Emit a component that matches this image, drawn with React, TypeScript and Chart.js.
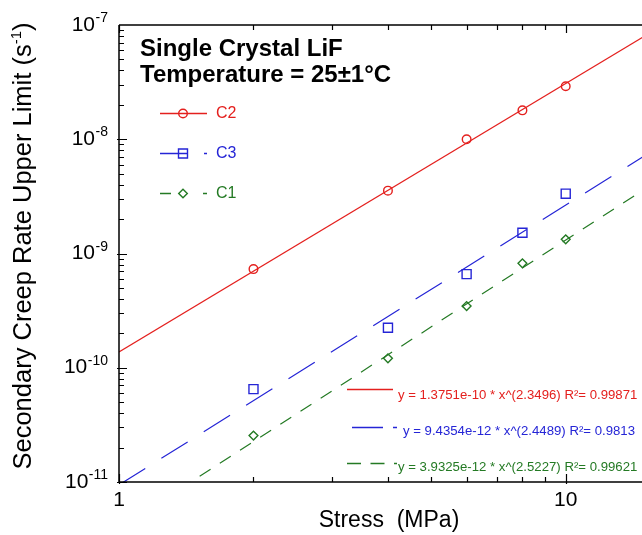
import React, { useEffect, useRef } from "react";
import { Chart, registerables } from "chart.js";

Chart.register(...registerables);

// ---- data ----
const stress = [2, 4, 6, 8, 10];
const c2Rate = [7.3e-10, 3.55e-9, 1.0e-8, 1.79e-8, 2.91e-8];
const c3Rate = [6.5e-11, 2.24e-10, 6.6e-10, 1.52e-9, 3.34e-9];
const c1Rate = [2.55e-11, 1.21e-10, 3.47e-10, 8.2e-10, 1.33e-9];

// power-law fit lines (straight on log-log, two end points each)
const fitStress = [1, 20];
const c2Fit = [1.3751e-10, 1.568e-7];
const c3Fit = [9.4354e-12, 1.449e-8];
const c1Fit = [3.9325e-12, 7.533e-9];

const seriesNames = ["C2", "C3", "C1"];
const fitLabels = [
  "y = 1.3751e-10 * x^(2.3496) R\u00B2= 0.99871",
  "y = 9.4354e-12 * x^(2.4489) R\u00B2= 0.9813",
  "y = 3.9325e-12 * x^(2.5227) R\u00B2= 0.99621",
];

const xMajorTicks = [1, 10];
const xTickLabels = ["1", "10"];
const yMajorTicks = [1e-11, 1e-10, 1e-9, 1e-8, 1e-7];
const yTickExponents = ["-11", "-10", "-9", "-8", "-7"];

const titleLines = ["Single Crystal LiF", "Temperature = 25\u00B11\u00B0C"];
const xTitle = "Stress  (MPa)";
const yTitleMain = "Secondary Creep Rate Upper Limit (s";
const yTitleSup = "-1";
const yTitleEnd = ")";

const RED = "#e4201e";
const BLUE = "#2525d6";
const GREEN = "#247a24";
const FONT = '"Liberation Sans", Arial, Helvetica, sans-serif';

const pts = (xs: number[], ys: number[]) => xs.map((x, i) => ({ x, y: ys[i] }));

const decorPlugin = {
  id: "decor",
  afterDraw(chart: any) {
    const ctx: CanvasRenderingContext2D = chart.ctx;
    const xs = chart.scales.x;
    const ys = chart.scales.y;
    const a = chart.chartArea;
    ctx.save();

    // frame
    ctx.strokeStyle = "#000";
    ctx.lineWidth = 1.5;
    ctx.beginPath();
    ctx.moveTo(a.left, a.top);
    ctx.lineTo(a.left, a.bottom);
    ctx.lineTo(a.right, a.bottom);
    ctx.moveTo(a.left, a.top);
    ctx.lineTo(a.right, a.top);
    ctx.stroke();

    // ticks (inward)
    ctx.lineWidth = 1.2;
    ctx.beginPath();
    for (let k = -11; k <= -8; k++) {
      for (let n = 1; n <= 9; n++) {
        const v = n * Math.pow(10, k);
        const py = Math.round(ys.getPixelForValue(v)) + 0.5;
        const len = n === 1 ? 8 : 5;
        ctx.moveTo(a.left - (n === 1 ? 2 : 0), py);
        ctx.lineTo(a.left + len, py);
      }
    }
    for (let k = 0; k <= 1; k++) {
      for (let n = 1; n <= 9; n++) {
        const v = n * Math.pow(10, k);
        if (v > 20) continue;
        const px = Math.round(xs.getPixelForValue(v)) + 0.5;
        const len = n === 1 ? 8 : 5;
        ctx.moveTo(px, a.bottom + (n === 1 ? 2 : 0));
        ctx.lineTo(px, a.bottom - len);
        ctx.moveTo(px, a.top);
        ctx.lineTo(px, a.top + len);
      }
    }
    ctx.stroke();

    // y tick labels
    ctx.fillStyle = "#000";
    ctx.textBaseline = "alphabetic";
    yMajorTicks.forEach((v, i) => {
      const py = ys.getPixelForValue(v);
      ctx.font = `14px ${FONT}`;
      ctx.textAlign = "right";
      const sup = yTickExponents[i];
      const sw = ctx.measureText(sup).width;
      ctx.fillText(sup, 108, py - 3);
      ctx.font = `21px ${FONT}`;
      ctx.fillText("10", 108 - sw - 0.5, py + 5.5);
    });

    // x tick labels
    ctx.font = `21px ${FONT}`;
    ctx.textAlign = "center";
    xMajorTicks.forEach((v, i) => {
      ctx.fillText(xTickLabels[i], xs.getPixelForValue(v), 506);
    });

    // x title
    ctx.font = `23px ${FONT}`;
    ctx.fillText(xTitle, 389, 527);

    // y title (rotated)
    ctx.save();
    ctx.translate(31, 246);
    ctx.rotate(-Math.PI / 2);
    ctx.textAlign = "left";
    ctx.font = `25.5px ${FONT}`;
    const w1 = ctx.measureText(yTitleMain).width;
    const w3 = ctx.measureText(yTitleEnd).width;
    ctx.font = `15px ${FONT}`;
    const w2 = ctx.measureText(yTitleSup).width;
    const start = -(w1 + w2 + w3) / 2;
    ctx.font = `25.5px ${FONT}`;
    ctx.fillText(yTitleMain, start, 0);
    ctx.fillText(yTitleEnd, start + w1 + w2, 0);
    ctx.font = `15px ${FONT}`;
    ctx.fillText(yTitleSup, start + w1, -10);
    ctx.restore();

    // title
    ctx.textAlign = "left";
    ctx.font = `bold 24px ${FONT}`;
    ctx.fillText(titleLines[0], 140, 56);
    ctx.fillText(titleLines[1], 140, 82);

    // legend (top-left)
    const colors = [RED, BLUE, GREEN];
    const legendY = [113.5, 153.5, 193.5];
    const legendDash = [[], [28, 16], [11, 32]];
    colors.forEach((c, i) => {
      const y = legendY[i];
      ctx.strokeStyle = c;
      ctx.lineWidth = 1.3;
      ctx.setLineDash(legendDash[i]);
      ctx.beginPath();
      ctx.moveTo(160, y);
      ctx.lineTo(207, y);
      ctx.stroke();
      ctx.setLineDash([]);
      ctx.lineWidth = 1.4;
      ctx.beginPath();
      if (i === 0) {
        ctx.arc(183, y, 4.3, 0, Math.PI * 2);
      } else if (i === 1) {
        ctx.rect(178.5, y - 4.5, 9, 9);
      } else {
        ctx.moveTo(183, y - 4.3);
        ctx.lineTo(187.3, y);
        ctx.lineTo(183, y + 4.3);
        ctx.lineTo(178.7, y);
        ctx.closePath();
      }
      ctx.stroke();
      ctx.fillStyle = c;
      ctx.font = `16px ${FONT}`;
      ctx.textBaseline = "middle";
      ctx.fillText(seriesNames[i], 216, y);
    });

    // fit equations (bottom-right)
    const eqLineY = [389.5, 427.5, 463.5];
    const eqTextY = [395, 431, 467];
    const eqLineX = [
      [347, 393],
      [352, 397],
      [347, 397],
    ];
    const eqDash = [[], [31, 10], [14, 9.5]];
    const eqTextX = [398, 403, 398];
    colors.forEach((c, i) => {
      ctx.strokeStyle = c;
      ctx.lineWidth = 1.5;
      ctx.setLineDash(eqDash[i]);
      ctx.beginPath();
      ctx.moveTo(eqLineX[i][0], eqLineY[i]);
      ctx.lineTo(eqLineX[i][1], eqLineY[i]);
      ctx.stroke();
      ctx.setLineDash([]);
      ctx.fillStyle = c;
      ctx.font = `13.2px ${FONT}`;
      ctx.textBaseline = "middle";
      ctx.fillText(fitLabels[i], eqTextX[i], eqTextY[i]);
    });

    ctx.restore();
  },
};

export default function App() {
  const ref = useRef<HTMLCanvasElement | null>(null);

  useEffect(() => {
    if (!ref.current) return;
    const marker = (color: string, style: string, r: number) => ({
      showLine: false,
      pointStyle: style,
      pointRadius: r,
      pointBorderColor: color,
      pointBackgroundColor: "rgba(0,0,0,0)",
      pointBorderWidth: 1.4,
      borderColor: color,
    });
    const fit = (color: string, dash: number[]) => ({
      showLine: true,
      pointRadius: 0,
      borderColor: color,
      borderWidth: 1.2,
      borderDash: dash,
      fill: false,
    });
    const chart = new Chart(ref.current, {
      type: "scatter",
      data: {
        datasets: [
          { label: "C2 fit", data: pts(fitStress, c2Fit), ...fit(RED, []) },
          { label: "C3 fit", data: pts(fitStress, c3Fit), ...fit(BLUE, [31, 19]) },
          { label: "C1 fit", data: pts(fitStress, c1Fit), ...fit(GREEN, [13, 11]) },
          { label: "C2", data: pts(stress, c2Rate), ...marker(RED, "circle", 4.3) },
          { label: "C3", data: pts(stress, c3Rate), ...marker(BLUE, "rect", 6.4) },
          { label: "C1", data: pts(stress, c1Rate), ...marker(GREEN, "rectRot", 4.4) },
        ] as any,
      },
      options: {
        animation: false,
        responsive: false,
        devicePixelRatio: 1,
        events: [],
        layout: { padding: { left: 119, top: 25, right: 0, bottom: 53 } },
        plugins: { legend: { display: false }, tooltip: { enabled: false } },
        scales: {
          x: { type: "logarithmic", min: 1, max: 20, display: false },
          y: { type: "logarithmic", min: 1e-11, max: 1e-7, display: false },
        },
      },
      plugins: [decorPlugin],
    });
    return () => chart.destroy();
  }, []);

  return (
    <div
      style={{
        position: "fixed",
        left: 0,
        top: 0,
        width: 642,
        height: 535,
        overflow: "hidden",
        background: "#fff",
      }}
    >
      <canvas ref={ref} width={708} height={535} style={{ display: "block" }} />
    </div>
  );
}
